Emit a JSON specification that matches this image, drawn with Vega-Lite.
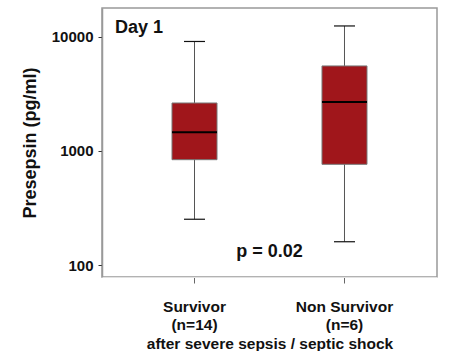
{
  "$schema": "https://vega.github.io/schema/vega-lite/v6.json",
  "width": 335,
  "height": 269,
  "autosize": "none",
  "padding": {"left": 102, "top": 8, "right": 13, "bottom": 74},
  "background": "white",
  "config": {
    "view": {"stroke": "#999999", "strokeWidth": 1.5},
    "font": "Liberation Sans"
  },
  "data": {
    "values": [
      {"group": "Survivor|(n=14)", "lower": 252, "q1": 839, "median": 1459, "q3": 2636, "upper": 9130},
      {"group": "Non Survivor|(n=6)", "lower": 160, "q1": 764, "median": 2690, "q3": 5570, "upper": 12490}
    ]
  },
  "encoding": {
    "x": {
      "field": "group",
      "type": "nominal",
      "sort": null,
      "scale": {"paddingInner": 0.7, "paddingOuter": 0.4667},
      "axis": {
        "title": "after severe sepsis / septic shock",
        "labelExpr": "split(datum.label, '|')",
        "labelAngle": 0,
        "labelFont": "Liberation Sans",
        "labelFontWeight": "bold",
        "labelFontSize": 15.5,
        "labelLineHeight": 18.5,
        "labelColor": "#111111",
        "labelPadding": 16,
        "domainColor": "#e2e2e2",
        "tickColor": "#666666",
        "tickSize": 6,
        "zindex": 1,
        "titleFont": "Liberation Sans",
        "titleFontWeight": "bold",
        "titleFontSize": 15.5,
        "titleColor": "#111111",
        "titlePadding": 3
      }
    }
  },
  "layer": [
    {
      "mark": {"type": "rule", "color": "#555555", "strokeWidth": 1},
      "encoding": {
        "y": {
          "field": "lower",
          "type": "quantitative",
          "scale": {"type": "log", "domain": [78.5, 17950], "nice": false},
          "axis": {
            "title": "Presepsin (pg/ml)",
            "values": [100, 1000, 10000],
            "format": "d",
            "grid": false,
            "labelFont": "Liberation Sans",
            "labelFontWeight": "bold",
            "labelFontSize": 15,
            "labelColor": "#111111",
            "labelPadding": 5,
            "tickSize": 4,
            "tickColor": "#333333",
            "domainColor": "#999999",
            "domainWidth": 1.5,
            "titleFont": "Liberation Sans",
            "titleFontWeight": "bold",
            "titleFontSize": 18,
            "titleColor": "#111111",
            "titlePadding": 12
          }
        },
        "y2": {"field": "upper"}
      }
    },
    {
      "mark": {"type": "bar", "color": "#A0161B", "stroke": "#777777", "strokeWidth": 1},
      "encoding": {
        "y": {"field": "q1", "type": "quantitative"},
        "y2": {"field": "q3"}
      }
    },
    {
      "mark": {"type": "tick", "color": "#111111", "thickness": 1.2, "size": 21, "opacity": 1},
      "encoding": {"y": {"field": "lower", "type": "quantitative"}}
    },
    {
      "mark": {"type": "tick", "color": "#111111", "thickness": 1.2, "size": 21, "opacity": 1},
      "encoding": {"y": {"field": "upper", "type": "quantitative"}}
    },
    {
      "mark": {"type": "tick", "color": "#000000", "thickness": 2, "size": 45, "opacity": 1},
      "encoding": {"y": {"field": "median", "type": "quantitative"}}
    },
    {
      "data": {"values": [{"label": "Day 1"}]},
      "mark": {"type": "text", "font": "Liberation Sans", "fontWeight": "bold", "fontSize": 18, "align": "left", "baseline": "alphabetic", "dx": -79.5, "color": "#111111"},
      "encoding": {
        "x": {"datum": "Survivor|(n=14)"},
        "y": {"datum": 10800},
        "text": {"field": "label"}
      }
    },
    {
      "data": {"values": [{"label": "p = 0.02"}]},
      "mark": {"type": "text", "font": "Liberation Sans", "fontWeight": "bold", "fontSize": 18, "align": "center", "baseline": "alphabetic", "dx": 75, "color": "#111111"},
      "encoding": {
        "x": {"datum": "Survivor|(n=14)"},
        "y": {"datum": 118},
        "text": {"field": "label"}
      }
    }
  ]
}
